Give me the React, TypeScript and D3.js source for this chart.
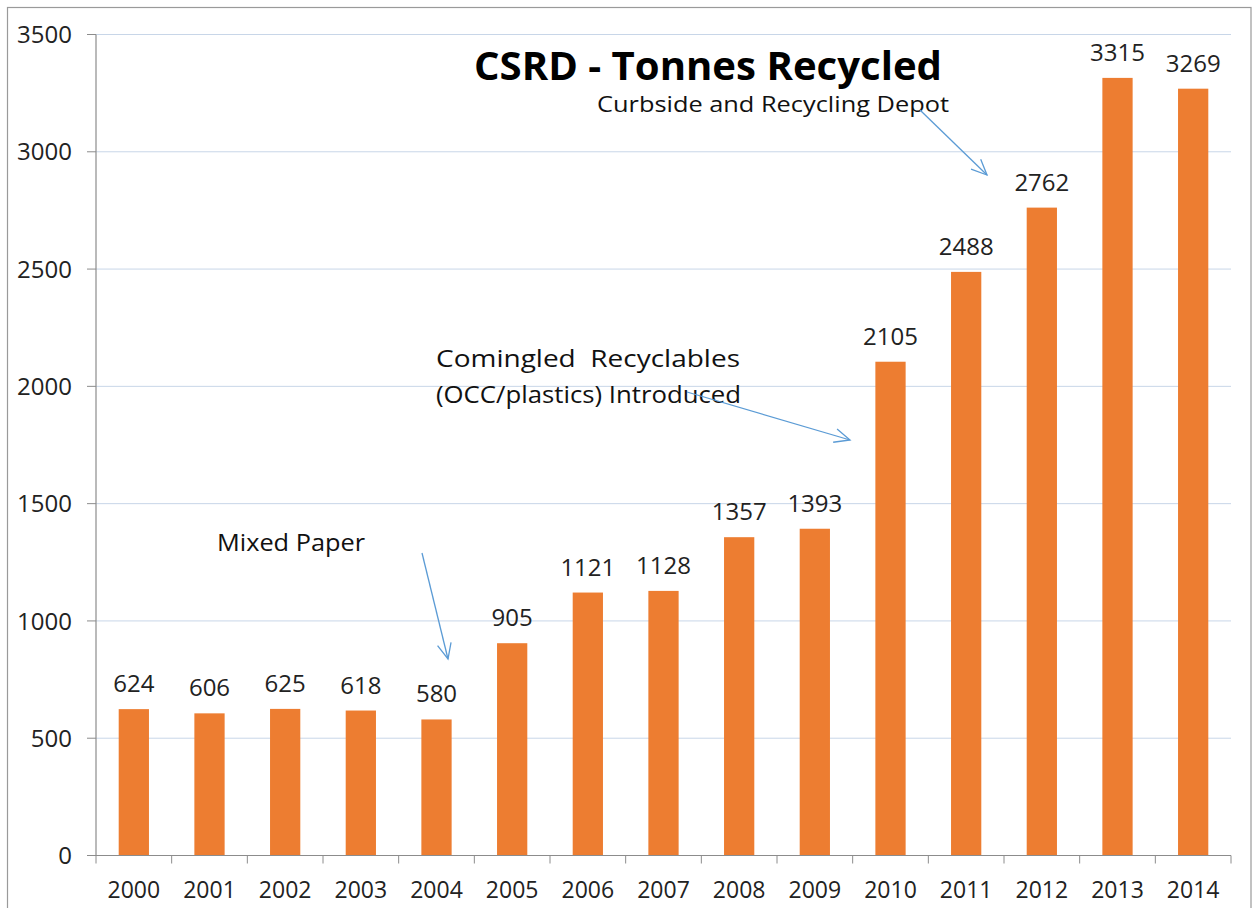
import React from "react";
import * as d3 from "d3";

const years = ["2000","2001","2002","2003","2004","2005","2006","2007","2008","2009","2010","2011","2012","2013","2014"];
const tonnes = [624, 606, 625, 618, 580, 905, 1121, 1128, 1357, 1393, 2105, 2488, 2762, 3315, 3269];
const yTicks = [0, 500, 1000, 1500, 2000, 2500, 3000, 3500];

const W = 1254, H = 908;
const left = 96, right = 1231, top = 34.5, bottom = 855.5;
const FONT = "'Open Sans', sans-serif";

export default function App() {
  const x = d3.scaleBand<string>().domain(years).range([left, right]).paddingInner(0.6).paddingOuter(0.3);
  const xb = d3.scaleBand<string>().domain(years).range([left, right]);
  const y = d3.scaleLinear().domain([0, 3500]).range([bottom, top]);
  const arrowColor = "#5B9BD5";

  const arrow = (x1: number, y1: number, x2: number, y2: number, key: string) => {
    const ang = Math.atan2(y2 - y1, x2 - x1);
    const L = 17, a = 0.42;
    const p1 = [x2 - L * Math.cos(ang - a), y2 - L * Math.sin(ang - a)];
    const p2 = [x2 - L * Math.cos(ang + a), y2 - L * Math.sin(ang + a)];
    return (
      <g key={key} stroke={arrowColor} strokeWidth={1.3} fill="none">
        <line x1={x1} y1={y1} x2={x2} y2={y2} />
        <polyline points={`${p1[0]},${p1[1]} ${x2},${y2} ${p2[0]},${p2[1]}`} />
      </g>
    );
  };

  return (
    <svg width={W} height={H} style={{ position: "absolute", left: 0, top: 0, background: "#fff" }} fontFamily={FONT}>
      <rect x={7.5} y={7.5} width={1243.5} height={910} fill="#fff" stroke="#9a9a9a" strokeWidth={1.2} />
      {yTicks.map((t) => (
        <g key={t}>
          {t > 0 && <line x1={left} x2={right} y1={y(t)} y2={y(t)} stroke="#C8D6E8" strokeWidth={1} />}
          <line x1={87} x2={left} y1={y(t)} y2={y(t)} stroke="#8c8c8c" strokeWidth={1} />
          <text x={72} y={y(t)} dy="0.36em" textAnchor="end" fontSize={24} fill="#222">{t}</text>
        </g>
      ))}
      {years.map((yr, i) => (
        <g key={yr}>
          <rect x={x(yr)!} y={y(tonnes[i])} width={x.bandwidth()} height={bottom - y(tonnes[i])} fill="#ED7D31" />
          <text x={x(yr)! + x.bandwidth() / 2} y={y(tonnes[i]) - 17} textAnchor="middle" fontSize={24} fill="#222">{tonnes[i]}</text>
          <text x={xb(yr)! + xb.bandwidth() / 2} y={898} textAnchor="middle" fontSize={23} fill="#222">{yr}</text>
        </g>
      ))}
      {years.concat(["end"]).map((yr, i) => (
        <line key={"t" + i} x1={left + i * xb.bandwidth()} x2={left + i * xb.bandwidth()} y1={bottom} y2={bottom + 8} stroke="#8c8c8c" />
      ))}
      <line x1={left} x2={left} y1={top} y2={bottom} stroke="#8c8c8c" strokeWidth={1.2} />
      <line x1={left} x2={right} y1={bottom} y2={bottom} stroke="#8c8c8c" strokeWidth={1.2} />

      <text x={708} y={80} textAnchor="middle" fontSize={39} fontWeight="bold" fill="#000" textLength={468} lengthAdjust="spacingAndGlyphs">CSRD - Tonnes Recycled</text>
      <text x={597} y={112} fontSize={22} fill="#111" textLength={352} lengthAdjust="spacingAndGlyphs">Curbside and Recycling Depot</text>
      <text x={436} y={367} fontSize={23} fill="#111" textLength={304} lengthAdjust="spacingAndGlyphs" xmlSpace="preserve">Comingled  Recyclables</text>
      <text x={436} y={403} fontSize={23} fill="#111" textLength={305} lengthAdjust="spacingAndGlyphs">(OCC/plastics) Introduced</text>
      <text x={217} y={551} fontSize={23} fill="#111" textLength={148} lengthAdjust="spacingAndGlyphs">Mixed Paper</text>

      {arrow(920, 110, 987, 175, "a1")}
      {arrow(687, 392, 850, 440, "a2")}
      {arrow(422, 553, 448, 659, "a3")}
    </svg>
  );
}
